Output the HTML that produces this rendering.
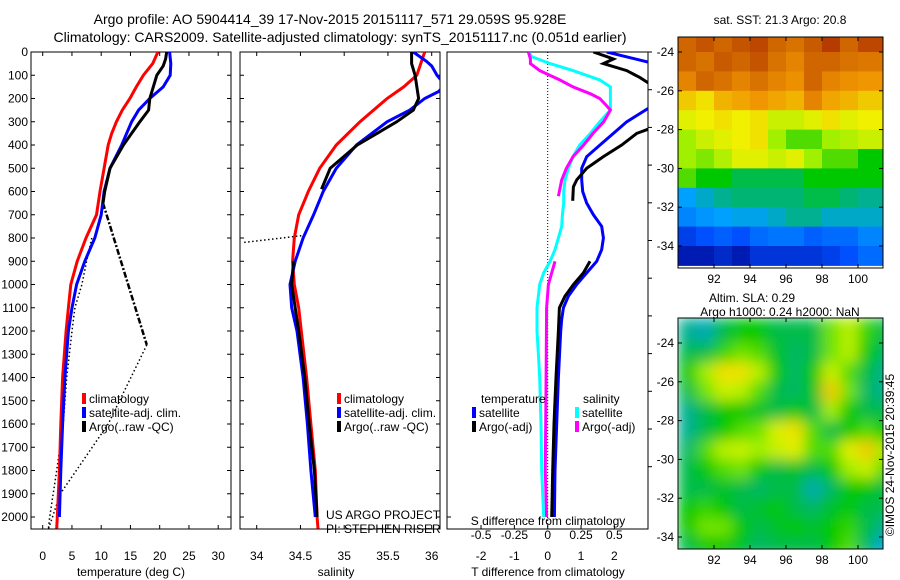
<!DOCTYPE html>
<html><head><meta charset="utf-8">
<style>
html,body{margin:0;padding:0;background:#fff;}
svg{display:block;font-family:"Liberation Sans",Arial,sans-serif;}
text{fill:#000;}
</style></head>
<body>
<svg id="fig" width="900" height="580" viewBox="0 0 900 580" xmlns="http://www.w3.org/2000/svg">
<defs>
<clipPath id="c1"><rect x="31" y="52" width="200" height="477"/></clipPath>
<clipPath id="c2"><rect x="240" y="52" width="200" height="477"/></clipPath>
<clipPath id="c3"><rect x="447" y="52" width="201" height="477"/></clipPath>
<clipPath id="cm1"><rect x="678" y="37" width="205" height="231"/></clipPath>
<clipPath id="cm2"><rect x="678" y="318" width="205" height="231"/></clipPath>
<filter id="blur" x="0" y="0" width="1" height="1"><feGaussianBlur stdDeviation="7" edgeMode="duplicate"/></filter>
</defs>
<text x="330" y="24" font-size="14" text-anchor="middle">Argo profile: AO 5904414_39 17-Nov-2015 20151117_571 29.059S 95.928E</text>
<text x="340" y="42" font-size="14" text-anchor="middle">Climatology: CARS2009. Satellite-adjusted climatology: synTS_20151117.nc (0.051d earlier)</text>
<g id="p1"></g>
<g id="p2"></g>
<g id="p3"></g>
<g id="m1"></g>
<g id="m2"></g>
<text x="780" y="24" font-size="12" text-anchor="middle">sat. SST: 21.3 Argo: 20.8</text>
<text x="752" y="302" font-size="12" text-anchor="middle">Altim. SLA: 0.29</text>
<text x="780" y="316" font-size="12" text-anchor="middle">Argo h1000: 0.24 h2000: NaN</text>
<text transform="translate(894,455) rotate(-90)" font-size="12" text-anchor="middle">©IMOS 24-Nov-2015 20:39:45</text>
</svg>
<script>
// ---------- data ----------
const tDepthRed=[0,50,100,150,200,250,300,350,400,500,600,700,800,900,1000,1100,1200,1400,1600,1800,2000,2050];
const tRed=[19.7,18.8,17.2,16.0,14.9,13.6,12.6,11.8,11.2,10.5,9.8,9.2,7.4,5.9,4.8,4.4,4.0,3.4,3.1,2.85,2.5,2.4];
const tDepthBlue=[0,50,100,150,200,250,300,400,500,600,700,800,900,1000,1100,1200,1400,1600,1800,2000];
const tBlue=[21.7,21.9,21.8,20.6,18.3,16.4,15.2,13.5,11.5,10.5,10.0,8.9,7.2,5.8,5.0,4.4,3.8,3.4,3.1,2.85];
const tDepthArgo=[0,30,60,100,200,250,300,350,400,500,600,650];
const tArgo=[21.2,21.0,20.6,19.5,18.3,18.1,16.6,15.2,13.8,11.5,10.6,10.3];
const tDepthDashDot=[650,1260];
const tDashDot=[10.3,17.8];
const tDepthDotA=[1260,1600,1900,2050];
const tDotA=[17.8,11.2,3.0,1.0];
const tDepthDotB=[800,900,1000,1100,1200,1400,1600,1800,2000,2050];
const tDotB=[8.4,7.5,6.7,5.5,5.0,4.1,3.5,2.4,1.2,0.97];

const sDepthRed=[0,100,150,200,300,400,500,600,700,800,900,1000,1100,1200,1400,1600,1800,2000,2050];
const sRed=[35.92,35.83,35.68,35.49,35.18,34.91,34.72,34.59,34.48,34.43,34.41,34.43,34.48,34.51,34.57,34.62,34.67,34.69,34.70];
const sDepthBlue=[0,40,60,100,140,170,200,250,300,400,500,600,700,800,900,1000,1100,1200,1400,1600,1800,2000];
const sBlue=[35.79,35.94,36.0,36.06,36.15,36.08,35.92,35.75,35.49,35.14,34.91,34.76,34.65,34.53,34.44,34.38,34.40,34.46,34.53,34.58,34.62,34.67];
const sDepthArgo1=[0,50,100,200,250,300,400,500,590];
const sArgo1=[35.77,35.77,35.81,35.85,35.79,35.6,35.15,34.84,34.74];
const sDepthArgo2=[900,1000,1200,1400,1600,1800,2000];
const sArgo2=[34.42,34.40,34.48,34.55,34.60,34.66,34.69];
const sDepthDot=[790,820];
const sDot=[34.51,33.83];

const dDepthTSat=[0,50,100,235,300,350,400,450,500,550,600,650,700,750,800,850,900,950,1000,1050,1100,1150,1200,1400,1600,1800,2000];
const dTSat=[1.77,3.2,3.5,3.1,2.37,1.97,1.57,1.17,1.02,1.02,1.05,1.17,1.37,1.62,1.67,1.62,1.47,1.17,0.87,0.62,0.47,0.42,0.39,0.32,0.27,0.22,0.2];
const dDepthTArgo1=[0,20,30,50,80,110,150,240,330,350,400,450,500,550,580,640];
const dTArgo1=[1.37,1.77,1.97,1.67,2.37,2.77,3.2,4.0,3.05,2.67,2.22,1.67,1.17,0.87,0.77,0.75];
const dDepthTArgo2=[900,950,1000,1050,1100,1200,1400,1600,1800,2000];
const dTArgo2=[1.27,1.07,0.77,0.52,0.35,0.32,0.25,0.19,0.15,0.12];
const dDepthSSat=[0,20,50,80,120,150,200,250,300,350,400,450,500,550,600,650,700,750,800,850,900,950,1000,1100,1200,1300,1400,1600,1800,2000];
const dSSat=[-0.145,-0.12,0.018,0.19,0.39,0.47,0.47,0.47,0.39,0.32,0.24,0.19,0.155,0.13,0.12,0.12,0.11,0.105,0.08,0.055,0.018,-0.03,-0.06,-0.08,-0.08,-0.07,-0.06,-0.05,-0.045,-0.03];
const dDepthSArgo1=[0,30,50,80,120,150,180,200,230,250,300,350,400,450,500,550,620];
const dSArgo1=[-0.145,-0.13,-0.13,-0.06,0.09,0.19,0.32,0.39,0.44,0.47,0.42,0.34,0.27,0.19,0.14,0.105,0.08];
const dDepthSArgo2=[900,950,1000,1100,1400,1800,2000];
const dSArgo2=[0.055,0.03,0.005,-0.008,-0.012,-0.018,-0.008];

const depthTicks=[0,100,200,300,400,500,600,700,800,900,1000,1100,1200,1300,1400,1500,1600,1700,1800,1900,2000];
const tempTicks=[0,5,10,15,20,25,30];
const salTicks=[34,34.5,35,35.5,36];
const salTickLabels=["34","34.5","35","35.5","36"];
const dTTicks=[-2,-1,0,1,2];
const dSTicks=[-0.5,-0.25,0,0.25,0.5];
const latTicks=[-24,-26,-28,-30,-32,-34];
const lonTicks=[92,94,96,98,100];

const sstGrid=[
[0.9,0.93,0.9,0.93,0.95,0.9,0.88,0.92,0.97,0.9,0.95,0.95],
[0.9,0.88,0.92,0.9,0.93,0.88,0.85,0.9,0.9,0.88,0.87,0.87],
[0.85,0.9,0.88,0.85,0.88,0.85,0.83,0.9,0.85,0.83,0.82,0.82],
[0.75,0.72,0.78,0.8,0.82,0.8,0.78,0.85,0.8,0.78,0.75,0.75],
[0.68,0.7,0.72,0.7,0.72,0.65,0.65,0.68,0.72,0.68,0.7,0.7],
[0.6,0.65,0.68,0.7,0.72,0.6,0.55,0.55,0.6,0.62,0.65,0.65],
[0.6,0.58,0.62,0.68,0.68,0.65,0.68,0.6,0.55,0.55,0.5,0.5],
[0.55,0.5,0.5,0.45,0.45,0.45,0.45,0.5,0.5,0.5,0.5,0.5],
[0.3,0.35,0.4,0.42,0.42,0.42,0.42,0.45,0.45,0.42,0.4,0.4],
[0.25,0.28,0.3,0.32,0.32,0.35,0.4,0.4,0.35,0.35,0.35,0.35],
[0.12,0.15,0.18,0.15,0.2,0.22,0.22,0.18,0.2,0.2,0.25,0.25],
[0.05,0.05,0.08,0.05,0.1,0.1,0.1,0.1,0.12,0.15,0.2,0.2]];
const slaGrid=[
[0.4,0.37,0.45,0.5,0.5,0.45,0.45,0.45,0.57,0.63,0.53,0.45],
[0.45,0.45,0.53,0.57,0.55,0.47,0.43,0.45,0.57,0.63,0.5,0.43],
[0.5,0.6,0.72,0.72,0.63,0.5,0.43,0.5,0.65,0.55,0.45,0.4],
[0.45,0.57,0.65,0.63,0.55,0.45,0.43,0.47,0.75,0.57,0.43,0.4],
[0.4,0.45,0.5,0.5,0.47,0.45,0.5,0.45,0.6,0.5,0.45,0.45],
[0.4,0.45,0.5,0.55,0.57,0.67,0.72,0.55,0.45,0.5,0.55,0.5],
[0.43,0.55,0.63,0.65,0.6,0.65,0.68,0.55,0.55,0.68,0.75,0.6],
[0.45,0.5,0.55,0.57,0.5,0.45,0.47,0.45,0.5,0.6,0.65,0.55],
[0.45,0.45,0.47,0.45,0.43,0.45,0.45,0.37,0.43,0.5,0.5,0.45],
[0.5,0.53,0.5,0.45,0.47,0.5,0.45,0.43,0.47,0.5,0.45,0.45],
[0.5,0.57,0.57,0.5,0.45,0.47,0.5,0.47,0.5,0.53,0.45,0.4],
[0.45,0.5,0.5,0.47,0.43,0.45,0.45,0.45,0.5,0.55,0.43,0.33]];

// ---------- scales ----------
const NS="http://www.w3.org/2000/svg";
const yD=d=>52+d*0.2325;
const xT=t=>42.7+t*5.85;
const xS=s=>256.7+(s-34)*87.5;
const xDT=t=>547.7+t*33.33;
const xDS=s=>547.7+s*133.3;
const xLon=l=>678+(l-90)*18;
const yLat1=l=>52+(-24-l)*19.4;
const yLat2=l=>343+(-24-l)*19.4;

function mk(tag,attrs,parent){const e=document.createElementNS(NS,tag);for(const k in attrs)e.setAttribute(k,attrs[k]);parent.appendChild(e);return e;}
function line(parent,name,depths,vals,xf,color,w,dash,clip){
  let d="";for(let i=0;i<depths.length;i++)d+=(i?"L":"M")+xf(vals[i]).toFixed(1)+","+yD(depths[i]).toFixed(1);
  const p=mk("path",{d:d,fill:"none",stroke:color,"stroke-width":w,"clip-path":"url(#"+clip+")"},parent);
  if(dash)p.setAttribute("stroke-dasharray",dash);
  
  
  return p;
}
function txt(parent,name,x,y,s,anchor,size){
  const t=mk("text",{x:x,y:y,"font-size":size||12,"text-anchor":anchor||"middle"},parent);t.textContent=s;
  
  
  return t;
}
function frame(parent,name,x,y,w,h){
  const r=mk("rect",{x:x,y:y,width:w,height:h,fill:"none",stroke:"#000","stroke-width":1},parent);
  
  
}
function tick(parent,x1,y1,x2,y2){const l=mk("line",{x1:x1,y1:y1,x2:x2,y2:y2,stroke:"#000","stroke-width":1},parent);
  
  }
function legendEntry(parent,name,x,y,color,label){
  const r=mk("rect",{x:x,y:y-10,width:4,height:11,fill:color},parent);
  
  
  txt(parent,name,x+7,y,label,"start",12);
}

// ---------- panel 1 ----------
const p1=document.getElementById("p1");
frame(p1,"temperature-plot-frame",31,52,200,477);
depthTicks.forEach(d=>{tick(p1,31,yD(d),35,yD(d));tick(p1,227,yD(d),231,yD(d));txt(p1,"depth-tick-label",28,yD(d)+4,String(d),"end");});
tempTicks.forEach(t=>{tick(p1,xT(t),529,xT(t),525);tick(p1,xT(t),52,xT(t),56);txt(p1,"temperature-tick-label",xT(t),560,String(t));});
txt(p1,"x-axis-title-temperature",131,576,"temperature (deg C)");
line(p1,"argo-dotted-a",tDepthDotA,tDotA,xT,"#000",1.5,"1.5,2.5","c1");
line(p1,"argo-dotted-b",tDepthDotB,tDotB,xT,"#000",1.5,"1.5,2.5","c1");
line(p1,"argo-dashdot",tDepthDashDot,tDashDot,xT,"#000",2.5,"6,2,2,2","c1");
line(p1,"climatology-temperature",tDepthRed,tRed,xT,"#f00",3,null,"c1");
line(p1,"satellite-temperature",tDepthBlue,tBlue,xT,"#00f",3,null,"c1");
line(p1,"argo-temperature",tDepthArgo,tArgo,xT,"#000",3,null,"c1");
legendEntry(p1,"legend-climatology",82,403,"#f00","climatology");
legendEntry(p1,"legend-satellite",82,417,"#00f","satellite-adj. clim.");
legendEntry(p1,"legend-argo",82,431,"#000","Argo(..raw -QC)");

// ---------- panel 2 ----------
const p2=document.getElementById("p2");
frame(p2,"salinity-plot-frame",240,52,200,477);
depthTicks.forEach(d=>{tick(p2,240,yD(d),244,yD(d));tick(p2,436,yD(d),440,yD(d));});
salTicks.forEach((s,i)=>{tick(p2,xS(s),529,xS(s),525);tick(p2,xS(s),52,xS(s),56);txt(p2,"salinity-tick-label",xS(s),560,salTickLabels[i]);});
txt(p2,"x-axis-title-salinity",336,576,"salinity");
line(p2,"argo-salinity-dotted",sDepthDot,sDot,xS,"#000",1.5,"1.5,2.5","c2");
line(p2,"climatology-salinity",sDepthRed,sRed,xS,"#f00",3,null,"c2");
line(p2,"satellite-salinity",sDepthBlue,sBlue,xS,"#00f",3,null,"c2");
line(p2,"argo-salinity-upper",sDepthArgo1,sArgo1,xS,"#000",3,null,"c2");
line(p2,"argo-salinity-lower",sDepthArgo2,sArgo2,xS,"#000",3,null,"c2");
legendEntry(p2,"legend-climatology-2",337,403,"#f00","climatology");
legendEntry(p2,"legend-satellite-2",337,417,"#00f","satellite-adj. clim.");
legendEntry(p2,"legend-argo-2",337,431,"#000","Argo(..raw -QC)");
txt(p2,"project-credit",326,519,"US ARGO PROJECT","start");
txt(p2,"pi-credit",326,533,"PI: STEPHEN RISER","start");

// ---------- panel 3 ----------
const p3=document.getElementById("p3");
frame(p3,"difference-plot-frame",447,52,201,477);
[0,100,200,300,400,500,800,900,1000,1100,1200,1300].forEach((d,i)=>{const y=52+i*37.7;tick(p3,648,y,652,y);});
tick(p3,447,yD(2000),451,yD(2000));
dTTicks.forEach(t=>{tick(p3,xDT(t),529,xDT(t),525);txt(p3,"t-diff-tick-label",xDT(t),560,String(t));});
dSTicks.forEach(s=>{txt(p3,"s-diff-tick-label",xDS(s),539,String(s));});
txt(p3,"s-diff-axis-title",548,525,"S difference from climatology");
txt(p3,"x-axis-title-t-diff",548,576,"T difference from climatology");
const zl=mk("line",{x1:xDT(0),y1:52,x2:xDT(0),y2:529,stroke:"#000","stroke-width":1,"stroke-dasharray":"1,2"},p3);


line(p3,"satellite-salinity-diff",dDepthSSat,dSSat,xDS,"#0ff",3,null,"c3");
line(p3,"argo-salinity-diff-upper",dDepthSArgo1,dSArgo1,xDS,"#f0f",3,null,"c3");
line(p3,"argo-salinity-diff-lower",dDepthSArgo2,dSArgo2,xDS,"#f0f",3,null,"c3");
line(p3,"satellite-temperature-diff",dDepthTSat,dTSat,xDT,"#00f",3,null,"c3");
line(p3,"argo-temperature-diff-upper",dDepthTArgo1,dTArgo1,xDT,"#000",3,null,"c3");
line(p3,"argo-temperature-diff-lower",dDepthTArgo2,dTArgo2,xDT,"#000",3,null,"c3");
txt(p3,"legend-temperature-heading",481,403,"temperature","start");
legendEntry(p3,"legend-t-satellite",472,417,"#00f","satellite");
legendEntry(p3,"legend-t-argo",472,431,"#000","Argo(-adj)");
txt(p3,"legend-salinity-heading",583,403,"salinity","start");
legendEntry(p3,"legend-s-satellite",575,417,"#0ff","satellite");
legendEntry(p3,"legend-s-argo",575,431,"#f0f","Argo(-adj)");

// ---------- maps ----------
const stops=[[0,[0,0,140]],[0.15,[0,80,255]],[0.3,[0,160,255]],[0.4,[0,176,144]],[0.5,[0,200,0]],[0.6,[160,240,0]],[0.7,[240,240,0]],[0.82,[240,150,0]],[0.92,[200,90,0]],[1,[170,40,0]]];
function cmap(v){v=Math.max(0,Math.min(1,v));for(let i=1;i<stops.length;i++){if(v<=stops[i][0]){const a=stops[i-1],b=stops[i],f=(v-a[0])/(b[0]-a[0]);const c=a[1].map((x,k)=>Math.round(x+(b[1][k]-x)*f));return "rgb("+c.join(",")+")";}}return "rgb(170,40,0)";}
function drawMap(id,grid,yLat,top,clip,blur,name){
  const g=document.getElementById(id);
  const inner=mk("g",{"clip-path":"url(#"+clip+")"},g);
  const cells=mk("g",blur?{filter:"url(#blur)"}:{},inner);
  grid.forEach((row,r)=>row.forEach((v,c)=>{
    const lat=-23-r, lon=90+c;
    const y0=yLat(lat), y1=yLat(lat-1);
    const x0=xLon(lon), x1=xLon(lon+1);
    const rc=mk("rect",{x:x0.toFixed(1),y:(r===0?top:y0).toFixed(1),width:(x1-x0+0.5).toFixed(1),height:((r===0?y1-top:y1-y0)+0.5).toFixed(1),fill:cmap(v)},cells);
    
    
  }));
  frame(g,name+"-frame",678,top,205,231);
  latTicks.forEach(l=>{const y=yLat(l);tick(g,678,y,682,y);tick(g,879,y,883,y);txt(g,name+"-lat-label",674,y+4,String(l),"end");});
  lonTicks.forEach(l=>{const x=xLon(l);tick(g,x,top+231,x,top+227);tick(g,x,top,x,top+4);txt(g,name+"-lon-label",x,top+231+15,String(l));});
}
drawMap("m1",sstGrid,yLat1,37,"cm1",false,"sst-map");
drawMap("m2",slaGrid,yLat2,318,"cm2",true,"sla-map");
</script>
</body></html>
